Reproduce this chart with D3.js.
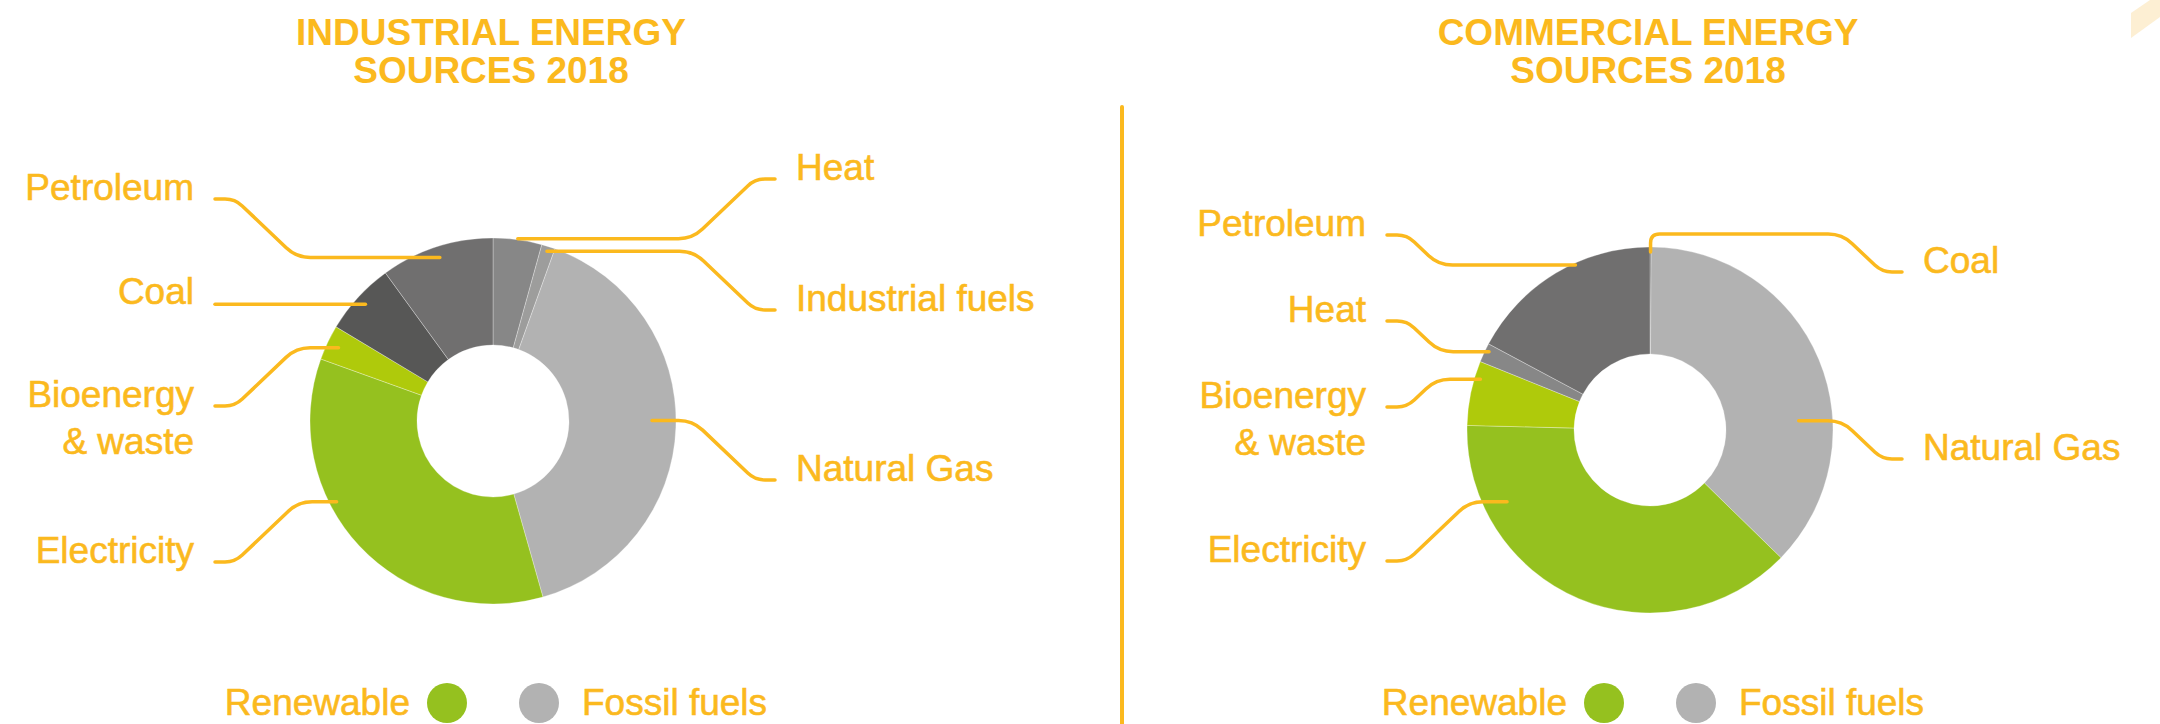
<!DOCTYPE html>
<html>
<head>
<meta charset="utf-8">
<script src="https://cdn.jsdelivr.net/npm/d3@7"></script>
<style>
body { margin: 0; background: #fff; }
svg { display: block; font-family: "Liberation Sans", Arial, Helvetica, sans-serif; }
</style>
</head>
<body>
<div id="graf"></div>
<script>
// datos, % del consumo
const industrialSources = ["Heat", "Industrial fuels", "Natural Gas", "Electricity", "Bioenergy & waste", "Coal", "Petroleum"]
const industrialValues = [4.3, 1.2, 40.1, 34.9, 3.1, 6.4, 10.0]
const commercialSources = ["Coal", "Natural Gas", "Electricity", "Bioenergy & waste", "Heat", "Petroleum"]
const commercialValues = [0.1, 37.2, 38.1, 5.7, 1.7, 17.2]
const titles = [["INDUSTRIAL ENERGY", "SOURCES 2018"], ["COMMERCIAL ENERGY", "SOURCES 2018"]]
const legendLabels = ["Renewable", "Fossil fuels"]

const yellow = "#fbb91e"
const color = d3.scaleOrdinal()
    .domain(["Petroleum", "Coal", "Bioenergy & waste", "Electricity", "Natural Gas", "Heat", "Industrial fuels"])
    .range(["#706f6f", "#575756", "#afca0b", "#95c11f", "#b2b2b2", "#878787", "#9d9d9c"])
const legendColor = d3.scaleOrdinal().domain(legendLabels).range(["#95c11f", "#b2b2b2"])

const anchoTotal = 2160
const altoTotal = 724

const svg = d3.select("#graf").append("svg").attr("width", anchoTotal).attr("height", altoTotal)

// esquina decorativa
svg.append("polygon")
    .attr("points", "2131,13 2150,0 2160,0 2160,17 2131,38")
    .attr("fill", "#fdefd3")

// separador
svg.append("line")
    .attr("x1", 1122).attr("x2", 1122).attr("y1", 107).attr("y2", 740)
    .attr("stroke", yellow).attr("stroke-width", 4).attr("stroke-linecap", "round")

// posicion de etiquetas (layout, no datos)
const charts = [
    {
        sources: industrialSources, values: industrialValues, title: titles[0],
        cx: 493, cy: 421, leftX: 194, rightX: 796,
        labels: [
            { name: "Petroleum", side: "left", y: 200, at: 0.5, r: 172 },
            { name: "Coal", side: "left", y: 304, at: 0.5, r: 173 },
            { name: "Bioenergy & waste", lines: ["Bioenergy", "& waste"], side: "left", y: 407, at: 0.5, r: 171 },
            { name: "Electricity", side: "left", y: 563, at: 0.625, r: 176 },
            { name: "Heat", side: "right", y: 180, at: 0.5, r: 184 },
            { name: "Industrial fuels", side: "right", y: 311, at: 0.5, r: 178 },
            { name: "Natural Gas", side: "right", y: 481, at: 0.485, r: 159 }
        ]
    },
    {
        sources: commercialSources, values: commercialValues, title: titles[1],
        cx: 1650, cy: 430, leftX: 1366, rightX: 1923,
        labels: [
            { name: "Petroleum", side: "left", y: 236, at: 0.607, r: 181 },
            { name: "Heat", side: "left", y: 322, at: 0.65, r: 179 },
            { name: "Bioenergy & waste", lines: ["Bioenergy", "& waste"], side: "left", y: 408, at: 0.74, r: 177 },
            { name: "Electricity", side: "left", y: 562, at: 0.795, r: 160 },
            { name: "Coal", side: "right", y: 273, at: 0.5, r: 178, level: 234 },
            { name: "Natural Gas", side: "right", y: 460, at: 0.643, r: 149 }
        ]
    }
]

const roundedPath = (pts, rad) => {
    let d = `M${pts[0][0]},${pts[0][1]}`
    for (let i = 1; i < pts.length - 1; i++) {
        const [x0, y0] = pts[i - 1], [x1, y1] = pts[i], [x2, y2] = pts[i + 1]
        const l1 = Math.hypot(x1 - x0, y1 - y0), l2 = Math.hypot(x2 - x1, y2 - y1)
        if (l1 < 0.5 || l2 < 0.5) continue
        const r = Math.min(rad, l1 / 2, l2 / 2)
        const ax = x1 - (x1 - x0) / l1 * r, ay = y1 - (y1 - y0) / l1 * r
        const bx = x1 + (x2 - x1) / l2 * r, by = y1 + (y2 - y1) / l2 * r
        d += `L${ax},${ay}Q${x1},${y1} ${bx},${by}`
    }
    const last = pts[pts.length - 1]
    return d + `L${last[0]},${last[1]}`
}

const pie = d3.pie().sort(null).value(d => d.value).startAngle(0).endAngle(2 * Math.PI)
const arc = d3.arc().innerRadius(76).outerRadius(183)

charts.forEach(c => {
    const g = svg.append("g")
    const datos = c.sources.map((s, i) => ({ name: s, value: c.values[i] }))
    const arcs = pie(datos)

    // titulo
    g.selectAll(".titulo").data(c.title).enter().append("text")
        .attr("x", c.cx - 2).attr("y", (d, i) => 45 + i * 38)
        .attr("text-anchor", "middle")
        .attr("font-size", 37).attr("font-weight", "bold")
        .attr("fill", yellow)
        .text(d => d)

    // dona
    g.append("g").attr("transform", `translate(${c.cx},${c.cy})`)
        .selectAll("path").data(arcs).enter().append("path")
        .attr("d", arc)
        .attr("fill", d => color(d.data.name))
        .attr("stroke", "#ffffff").attr("stroke-width", 0.6).attr("stroke-opacity", 0.5)

    // etiquetas y guias
    c.labels.forEach(l => {
        const a = arcs.find(d => d.data.name === l.name)
        const ang = a.startAngle + (a.endAngle - a.startAngle) * l.at
        const ax = c.cx + l.r * Math.sin(ang)
        const ay = c.cy - l.r * Math.cos(ang)
        const dir = l.side === "left" ? 1 : -1
        const tx = l.side === "left" ? c.leftX : c.rightX
        const sx = tx + dir * 21
        const sy = l.y - 1
        const levelY = l.level !== undefined ? l.level : ay
        const dy = Math.abs(levelY - sy)
        let pts
        if (dy < 4) {
            pts = [[sx, ay], [ax, ay]]
        } else {
            const ex = sx + dir * 20
            const dx = ex + dir * dy * 1.05
            pts = [[sx, sy], [ex, sy], [dx, levelY], [ax, levelY]]
            if (l.level !== undefined) pts.push([ax, ay])
        }
        g.append("path")
            .attr("d", roundedPath(pts, 14))
            .attr("fill", "none")
            .attr("stroke", yellow).attr("stroke-width", 3.5)
            .attr("stroke-linecap", "round").attr("stroke-linejoin", "round")

        const lines = l.lines || [l.name]
        g.append("text")
            .attr("x", tx).attr("y", l.y)
            .attr("text-anchor", l.side === "left" ? "end" : "start")
            .attr("font-size", 37).attr("fill", yellow)
            .attr("stroke", yellow).attr("stroke-width", 0.6)
            .selectAll("tspan").data(lines).enter().append("tspan")
            .attr("x", tx).attr("dy", (d, i) => i === 0 ? 0 : 47)
            .text(d => d)
    })

    // leyenda
    const ley = g.append("g")
    ley.selectAll("circle").data(legendLabels).enter().append("circle")
        .attr("cx", (d, i) => c.cx + (i === 0 ? -46 : 46))
        .attr("cy", 703).attr("r", 20)
        .attr("fill", d => legendColor(d))
    ley.selectAll("text").data(legendLabels).enter().append("text")
        .attr("x", (d, i) => c.cx + (i === 0 ? -83 : 89))
        .attr("y", 715)
        .attr("text-anchor", (d, i) => i === 0 ? "end" : "start")
        .attr("font-size", 37).attr("fill", yellow)
        .attr("stroke", yellow).attr("stroke-width", 0.6)
        .text(d => d)
})
</script>
</body>
</html>
